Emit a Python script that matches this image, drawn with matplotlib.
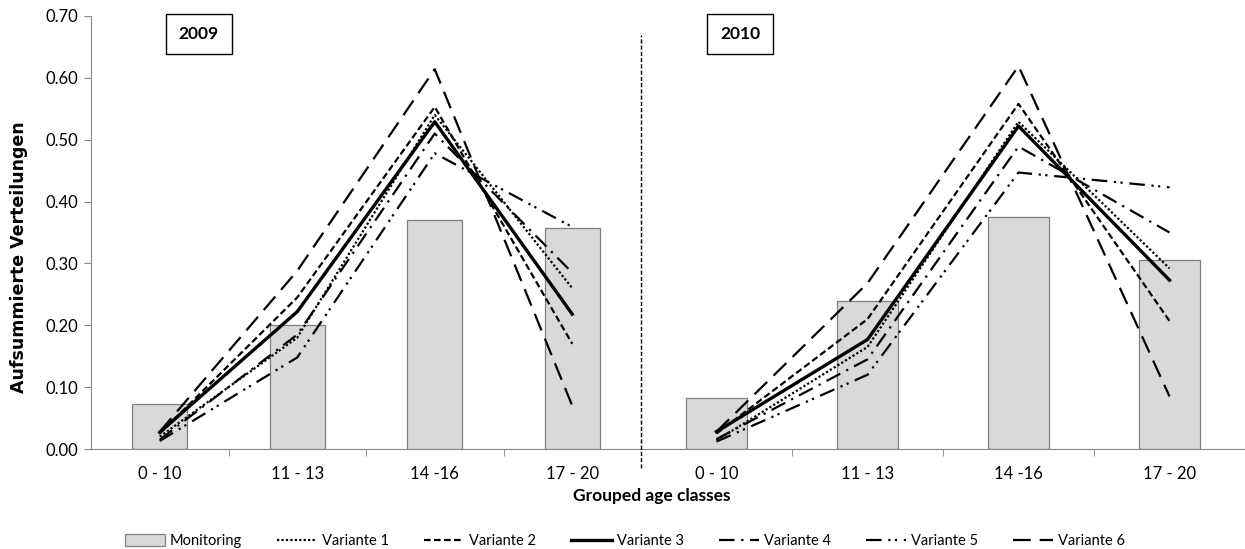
import matplotlib
matplotlib.use("Agg")
import matplotlib.pyplot as plt
from matplotlib.lines import Line2D
from matplotlib.patches import Rectangle, Patch

plt.rcParams['font.family'] = ['Lato', 'DejaVu Sans']

categories = ['0 - 10', '11 - 13', '14 -16', '17 - 20']
years = ['2009', '2010']

# monitoring (bars)
monitoring_2009 = [0.072, 0.200, 0.371, 0.358]
monitoring_2010 = [0.083, 0.239, 0.375, 0.305]

# model variants (lines)
v1_2009 = [0.020, 0.180, 0.540, 0.260]
v2_2009 = [0.025, 0.245, 0.553, 0.170]
v3_2009 = [0.027, 0.222, 0.529, 0.218]
v4_2009 = [0.015, 0.185, 0.510, 0.285]
v5_2009 = [0.013, 0.148, 0.478, 0.359]
v6_2009 = [0.028, 0.288, 0.614, 0.070]

v1_2010 = [0.014, 0.165, 0.529, 0.292]
v2_2010 = [0.025, 0.210, 0.558, 0.207]
v3_2010 = [0.028, 0.177, 0.522, 0.273]
v4_2010 = [0.016, 0.145, 0.489, 0.350]
v5_2010 = [0.012, 0.120, 0.447, 0.423]
v6_2010 = [0.028, 0.268, 0.619, 0.085]

variant_names = ['Variante 1', 'Variante 2', 'Variante 3',
                 'Variante 4', 'Variante 5', 'Variante 6']

# line styles per variant: (linestyle, linewidth)
styles = [
    ((0, (1, 1)), 1.6),
    ((0, (3, 1.5)), 1.6),
    ('-', 2.4),
    ((0, (7, 3, 1, 3)), 1.6),
    ((0, (7, 3, 1, 2, 1, 3)), 1.6),
    ((0, (8, 4)), 1.6),
]

W, H = 1245, 549
fig = plt.figure(figsize=(W / 100, H / 100), dpi=100)

y0 = 449
y1 = 16
bottom = (H - y0) / H
height = (y0 - y1) / H

axL = fig.add_axes([91 / W, bottom, (641 - 91) / W, height])
axR = fig.add_axes([641 / W, bottom, (1245 - 641) / W, height])

grey = '#868686'
data = [
    (axL, monitoring_2009, [v1_2009, v2_2009, v3_2009, v4_2009, v5_2009, v6_2009], years[0], 0.196),
    (axR, monitoring_2010, [v1_2010, v2_2010, v3_2010, v4_2010, v5_2010, v6_2010], years[1], 0.164),
]

x = list(range(len(categories)))
for ax, mon, variants, yr, bx in data:
    ax.bar(x, mon, width=0.4, color='#d9d9d9', edgecolor='#7f7f7f', linewidth=0.9, zorder=1)
    for vals, (ls, lw) in zip(variants, styles):
        ax.plot(x, vals, color='black', linestyle=ls, linewidth=lw, zorder=3)
    ax.set_xlim(-0.5, 3.5)
    ax.set_ylim(0, 0.70)
    ax.set_xticks(x)
    ax.set_xticklabels(categories, fontsize=12)
    ax.tick_params(axis='x', which='major', length=0, pad=12, colors='black')
    ax.set_xticks([0.5, 1.5, 2.5], minor=True)
    ax.tick_params(axis='x', which='minor', length=5, direction='out', color=grey)
    for s in ['top', 'right']:
        ax.spines[s].set_visible(False)
    ax.spines['bottom'].set_color(grey)
    ax.spines['left'].set_color(grey)
    ax.patch.set_alpha(0)
    # year label box
    bw, bh = 66 / (ax.get_position().width * W), 40 / (height * H)
    ax.add_patch(Rectangle((bx - bw / 2, 0.958 - bh / 2), bw, bh, transform=ax.transAxes,
                           facecolor='white', edgecolor='black', linewidth=1.0, clip_on=False, zorder=5))
    ax.text(bx, 0.958, yr, transform=ax.transAxes, ha='center', va='center',
            fontsize=12.5, fontweight='bold', zorder=6)

axL.set_yticks([i / 10 for i in range(8)])
axL.set_yticklabels(['%.2f' % (i / 10) for i in range(8)], fontsize=12)
axL.tick_params(axis='y', length=5, direction='out', color=grey, pad=4)

axR.spines['left'].set_visible(False)
axR.set_yticks([])

fig.text(19 / W, (H - 257) / H, 'Aufsummierte Verteilungen', rotation=90,
         ha='center', va='center', fontsize=12.5, fontweight='bold',
         family=['DejaVu Sans'])

# dashed separator between the two years
fig.add_artist(Line2D([641 / W, 641 / W], [(H - 468) / H, (H - 35) / H],
                      color='black', linewidth=1.0, linestyle=(0, (3, 1.5))))

fig.text(652 / W, (H - 496) / H, 'Grouped age classes', ha='center', va='center',
         fontsize=12.5, fontweight='bold')

handles = [Patch(facecolor='#d9d9d9', edgecolor='#7f7f7f', linewidth=0.9)]
for ls, lw in styles:
    handles.append(Line2D([0], [0], color='black', linestyle=ls, linewidth=lw))
fig.legend(handles, ['Monitoring'] + variant_names, loc='center', ncol=7,
           bbox_to_anchor=(625 / W, (H - 541) / H), frameon=False,
           fontsize=10.5, handlelength=2.75, handleheight=0.8, columnspacing=2.4,
           handletextpad=0.35)

fig.savefig('out.png', dpi=100)
